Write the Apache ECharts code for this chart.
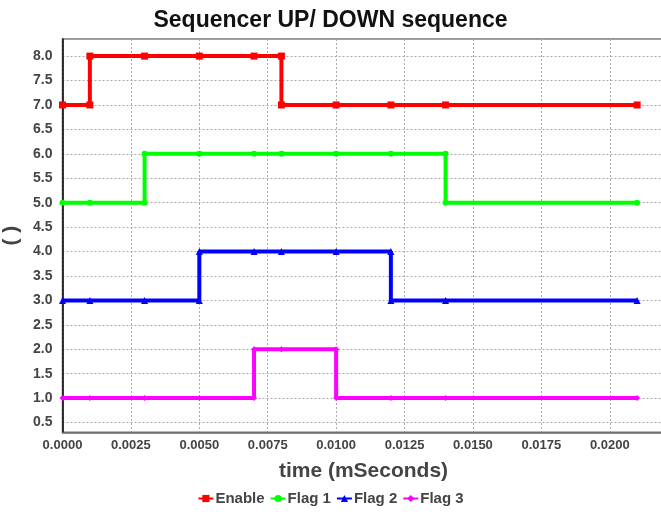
<!DOCTYPE html>
<html>
<head>
<meta charset="utf-8">
<script src="https://cdn.jsdelivr.net/npm/echarts@6/dist/echarts.min.js"></script>
<style>
  html, body { margin: 0; padding: 0; background: #fff; }
  #main { width: 661px; height: 512px; }
</style>
</head>
<body>
<div id="main"></div>
<script>
// time (ms) / level pairs, transitions repeat the time so both corners get a marker
const enableTime = [0, 0.001, 0.001, 0.003, 0.005, 0.007, 0.008, 0.008, 0.010, 0.012, 0.014, 0.021]
const enableValue = [7, 7, 8, 8, 8, 8, 8, 7, 7, 7, 7, 7]
const flag1Time = [0, 0.001, 0.003, 0.003, 0.005, 0.007, 0.008, 0.010, 0.012, 0.014, 0.014, 0.021]
const flag1Value = [5, 5, 5, 6, 6, 6, 6, 6, 6, 6, 5, 5]
const flag2Time = [0, 0.001, 0.003, 0.005, 0.005, 0.007, 0.008, 0.010, 0.012, 0.012, 0.014, 0.021]
const flag2Value = [3, 3, 3, 3, 4, 4, 4, 4, 4, 3, 3, 3]
const flag3Time = [0, 0.001, 0.003, 0.005, 0.007, 0.007, 0.008, 0.010, 0.010, 0.012, 0.014, 0.021]
const flag3Value = [1, 1, 1, 1, 1, 2, 2, 2, 1, 1, 1, 1]

const seriesNames = ['Enable', 'Flag 1', 'Flag 2', 'Flag 3']
const seriesColors = ['#ff0000', '#00ff00', '#0000ff', '#ff00ff']
const seriesSymbols = ['rect', 'circle', 'triangle', 'diamond']
const seriesSymbolSizes = [7, 6, 7, 6]

const font = 'Liberation Sans, Arial, sans-serif'
const textColor = '#444'

const zip = (xs, ys) => xs.map((x, i) => [x, ys[i]])
const seriesData = [
  zip(enableTime, enableValue),
  zip(flag1Time, flag1Value),
  zip(flag2Time, flag2Value),
  zip(flag3Time, flag3Value),
]

const isStep = (v, step) => Math.abs(v / step - Math.round(v / step)) < 1e-6

const chart = echarts.init(document.getElementById('main'), null, { renderer: 'canvas' })

chart.setOption({
  animation: false,
  backgroundColor: '#fff',
  title: {
    text: 'Sequencer UP/ DOWN sequence',
    left: 'center',
    top: 4,
    textStyle: { fontFamily: font, fontWeight: 'bold', fontSize: 23, color: '#111' },
  },
  legend: {
    data: seriesNames,
    bottom: 1,
    left: 'center',
    itemWidth: 15,
    itemHeight: 9,
    itemGap: 5,
    textStyle: { fontFamily: font, fontWeight: 'bold', fontSize: 15, color: textColor, padding: [0, 0, 0, -3] },
  },
  grid: {
    left: 62.5,
    top: 39,
    width: 602,
    height: 393.3,
    outerBoundsMode: 'none',
    show: true,
    borderColor: '#777',
    borderWidth: 1.5,
    containLabel: false,
  },
  xAxis: {
    type: 'value',
    min: 0,
    max: 0.022,
    interval: 0.0025,
    name: 'time (mSeconds)',
    nameLocation: 'middle',
    nameGap: 28,
    nameTextStyle: { fontFamily: font, fontWeight: 'bold', fontSize: 21, color: textColor },
    axisLine: { show: true, lineStyle: { color: '#666', width: 1.5 } },
    axisTick: { show: false },
    axisLabel: {
      fontFamily: font,
      fontWeight: 'bold',
      fontSize: 13,
      color: textColor,
      margin: 7,
      showMinLabel: true,
      formatter: (v) => (isStep(v, 0.0025) ? v.toFixed(4) : ''),
    },
    splitLine: { show: true, lineStyle: { color: '#aaa', type: [2, 2], width: 1 } },
  },
  yAxis: {
    type: 'value',
    min: 0.3,
    max: 8.35,
    splitNumber: 16,
    name: '( )',
    nameLocation: 'middle',
    nameGap: 32,
    nameRotate: 90,
    nameTextStyle: { fontFamily: font, fontWeight: 'bold', fontSize: 21, color: textColor },
    axisLine: { show: true, lineStyle: { color: '#000', width: 1.5 } },
    axisTick: { show: false },
    axisLabel: {
      fontFamily: font,
      fontWeight: 'bold',
      fontSize: 14,
      color: textColor,
      margin: 10,
      formatter: (v) => (isStep(v, 0.5) ? v.toFixed(1) : ''),
    },
    splitLine: { show: true, lineStyle: { color: '#aaa', type: [2, 2], width: 1 } },
  },
  series: seriesNames.map((name, i) => ({
    name,
    type: 'line',
    data: seriesData[i],
    color: seriesColors[i],
    symbol: seriesSymbols[i],
    symbolSize: seriesSymbolSizes[i],
    showAllSymbol: true,
    lineStyle: { width: 4, color: seriesColors[i] },
    itemStyle: { color: seriesColors[i] },
  })),
})
</script>
</body>
</html>
